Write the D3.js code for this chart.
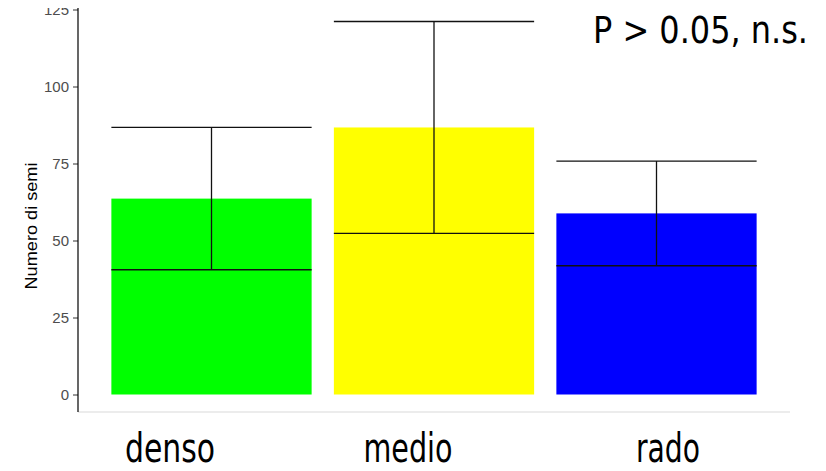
<!DOCTYPE html>
<html><head>
<meta charset="utf-8">
<script src="https://d3js.org/d3.v7.min.js"></script>
<style>
  body { margin: 0; background: #fff; }
  text.tick { font-family: Arial, "Liberation Sans", sans-serif; font-size: 15px; fill: #4d4d4d; }
  text.big { font-family: "Liberation Sans Narrow", "DejaVu Sans Condensed", sans-serif; fill: #000; }
</style>
</head>
<body>
<svg id="chart" width="826" height="471"></svg>
<script>
// Data
const categories = ["denso", "medio", "rado"];
const means = [63.6, 86.7, 58.8];
const errors = [23.1, 34.4, 17.0];
const colors = ["#00ff00", "#ffff00", "#0000ff"];
const yTicks = [0, 25, 50, 75, 100, 125];
// big labels under the chart, placed a bit off the bars like in the original
const labelX = [170, 408, 668];
const labelW = [90, 89, 64];

const svg = d3.select("#chart");

const x = d3.scaleBand().domain(categories).range([78, 790])
            .paddingInner(0.1).paddingOuter(0.15);
const y = d3.scaleLinear().domain([0, 125]).range([394.5, 9.5]);

// light grey bottom line
svg.append("line").attr("x1", 78).attr("x2", 790).attr("y1", 412).attr("y2", 412)
   .attr("stroke", "#d9d9d9").attr("stroke-width", 1);

// bars
svg.selectAll("rect.bar").data(categories)
   .join("rect").attr("class", "bar")
   .attr("x", d => x(d))
   .attr("width", x.bandwidth())
   .attr("y", (d, i) => y(means[i]))
   .attr("height", (d, i) => y(0) - y(means[i]))
   .attr("fill", (d, i) => colors[i]);

// error bars (whiskers as wide as the bars)
const eb = svg.selectAll("g.err").data(categories).join("g").attr("class", "err")
   .attr("stroke", "#111").attr("stroke-width", 1.3);
eb.append("line")
  .attr("x1", d => x(d) + x.bandwidth() / 2).attr("x2", d => x(d) + x.bandwidth() / 2)
  .attr("y1", (d, i) => y(means[i] + errors[i])).attr("y2", (d, i) => y(means[i] - errors[i]));
eb.append("line")
  .attr("x1", d => x(d)).attr("x2", d => x(d) + x.bandwidth())
  .attr("y1", (d, i) => y(means[i] + errors[i])).attr("y2", (d, i) => y(means[i] + errors[i]));
eb.append("line")
  .attr("x1", d => x(d)).attr("x2", d => x(d) + x.bandwidth())
  .attr("y1", (d, i) => y(means[i] - errors[i])).attr("y2", (d, i) => y(means[i] - errors[i]));

// y axis
const yAxis = svg.append("g").attr("transform", "translate(78,0)")
  .call(d3.axisLeft(y).tickValues(yTicks).tickSize(5).tickPadding(4));
yAxis.select(".domain").remove();
yAxis.selectAll(".tick line").attr("stroke", "#333");
yAxis.selectAll(".tick text").attr("class", "tick").attr("font-family", null).attr("font-size", null);

// the original image is cropped at the top: top part of "125" hidden
svg.append("rect").attr("x", 0).attr("y", 0).attr("width", 77).attr("height", 8).attr("fill", "#fff");

svg.append("line").attr("x1", 78).attr("x2", 78).attr("y1", 8).attr("y2", 412)
   .attr("stroke", "#000").attr("stroke-width", 1.2);

// y axis title
svg.append("text")
   .attr("transform", "translate(37,226) rotate(-90)")
   .attr("text-anchor", "middle")
   .attr("font-family", "Arial, 'Liberation Sans', sans-serif")
   .attr("font-size", 17)
   .attr("textLength", 127)
   .attr("lengthAdjust", "spacingAndGlyphs")
   .text("Numero di semi");

// category labels
svg.selectAll("text.cat").data(categories).join("text")
   .attr("class", "big cat")
   .attr("x", (d, i) => labelX[i] - labelW[i] / 2)
   .attr("y", 462)
   .attr("font-size", 40)
   .attr("textLength", (d, i) => labelW[i])
   .attr("lengthAdjust", "spacingAndGlyphs")
   .text(d => d);

// p-value note
svg.append("text").attr("class", "big")
   .attr("x", 593).attr("y", 43)
   .attr("font-size", 38)
   .attr("textLength", 215)
   .attr("lengthAdjust", "spacingAndGlyphs")
   .text("P > 0.05, n.s.");
</script>
</body>
</html>
